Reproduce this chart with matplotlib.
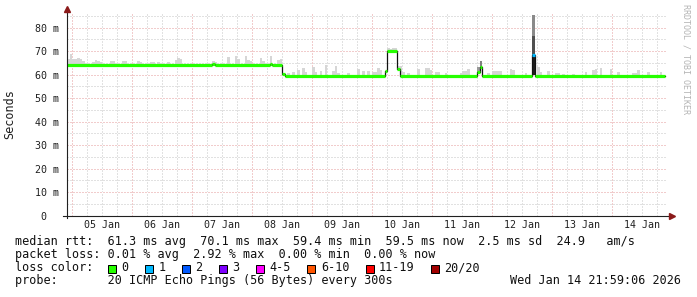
import numpy as np
import pandas as pd
import matplotlib
matplotlib.use('Agg')
import matplotlib.pyplot as plt
from matplotlib.patches import Rectangle

W, H = 697, 297

# graph window
start = pd.Timestamp('2026-01-04 21:59:06')
end = pd.Timestamp('2026-01-14 21:59:06')

# median rtt (ms) as hourly steps: level starts at the given hour
med_start = ['01-04 22', '01-07 08', '01-07 09', '01-08 07', '01-08 08', '01-08 12', '01-08 13',
             '01-10 05', '01-10 06', '01-10 10', '01-10 11', '01-11 18', '01-11 19', '01-11 20',
             '01-12 16', '01-12 17']
med_ms = [64.1, 64.6, 64.1, 64.6, 64.1, 60.1, 59.5,
          61.5, 70.1, 62.6, 59.5, 61.0, 63.3, 59.5,
          68.3, 59.5]
med_loss = [0, 0, 0, 0, 0, 0, 0,
            0, 0, 0, 0, 0, 0, 0,
            1, 0]
med_end = '01-14 21'

# smoke: hourly max ping above the median (ms)
smoke_hour = ['01-04 22', '01-04 23', '01-05 00', '01-05 01', '01-05 02', '01-05 03', '01-05 04',
              '01-05 08', '01-05 09', '01-05 10', '01-05 11', '01-05 15', '01-05 16', '01-05 20',
              '01-05 21', '01-06 02', '01-06 03', '01-06 07', '01-06 08', '01-06 10', '01-06 14',
              '01-06 17', '01-06 18', '01-06 19', '01-07 08', '01-07 09', '01-07 14', '01-07 17',
              '01-07 18', '01-07 21', '01-07 22', '01-07 23', '01-08 03', '01-08 04', '01-08 07',
              '01-08 10', '01-08 11',
              '01-08 14', '01-08 16', '01-08 18', '01-08 20', '01-08 21', '01-09 00', '01-09 01',
              '01-09 03', '01-09 05', '01-09 08', '01-09 09', '01-09 10', '01-09 14', '01-09 18',
              '01-09 20', '01-09 22', '01-10 00', '01-10 01', '01-10 02', '01-10 03',
              '01-10 06', '01-10 07', '01-10 08', '01-10 09', '01-10 10', '01-10 11', '01-10 12',
              '01-10 14', '01-10 18', '01-10 21', '01-10 22', '01-10 23', '01-11 01', '01-11 02',
              '01-11 05', '01-11 11', '01-11 12', '01-11 13', '01-11 14', '01-11 22',
              '01-12 00', '01-12 01', '01-12 02', '01-12 03', '01-12 07', '01-12 08', '01-12 13',
              '01-12 18', '01-12 19', '01-12 22', '01-13 01', '01-13 02', '01-13 04', '01-13 08',
              '01-13 13', '01-13 16', '01-13 17', '01-13 19', '01-13 23', '01-14 02', '01-14 08',
              '01-14 09', '01-14 10', '01-14 14', '01-14 19']
smoke_top = [66.7, 68.8, 66.5, 66.5, 67.2, 66.5, 66.0,
             65.3, 66.3, 66.0, 65.3, 65.8, 65.8, 65.8,
             65.8, 65.8, 65.5, 65.3, 65.3, 65.6, 65.6,
             66.3, 67.2, 66.5, 65.8, 65.3, 67.7, 68.1,
             66.7, 68.0, 66.3, 66.0, 67.2, 66.0, 68.0,
             66.3, 66.7,
             60.6, 61.0, 62.0, 63.0, 61.3, 63.4, 61.0,
             61.6, 64.1, 61.6, 63.7, 60.9, 60.8, 62.3,
             61.6, 61.6, 61.0, 61.0, 63.0, 62.0,
             71.3, 71.0, 71.5, 71.2, 63.7, 63.7, 61.0,
             60.8, 62.6, 62.7, 62.7, 62.0, 61.3, 61.0,
             60.6, 60.9, 61.6, 61.6, 62.3, 60.6,
             61.6, 61.6, 61.6, 61.6, 62.4, 62.0, 60.6,
             63.4, 61.3, 61.6, 60.9, 60.6, 60.5, 60.5,
             61.3, 62.0, 62.5, 62.9, 62.5, 61.3, 60.9,
             60.9, 61.8, 61.3, 61.3]

# denser smoke around the loss events
dark_hour = ['01-11 18', '01-11 19', '01-12 16', '01-12 16', '01-12 16']
dark_lo = [60.5, 63.3, 59.8, 68.0, 76.5]
dark_hi = [63.3, 65.8, 68.0, 76.5, 85.4]
dark_shade = ['#9a9a9a', '#808080', '#1e1e1e', '#505050', '#8a8a8a']

loss_labels = ['0', '1', '2', '3', '4-5', '6-10', '11-19', '20/20']
loss_colors = ['#26ff00', '#00b8ff', '#0059ff', '#7e00ff', '#ff00ff', '#ff5500', '#ff0000', '#a10000']

y_ticks = [0, 10, 20, 30, 40, 50, 60, 70, 80]
y_labels = [' 0', '10 m', '20 m', '30 m', '40 m', '50 m', '60 m', '70 m', '80 m']
day_labels = ['05 Jan', '06 Jan', '07 Jan', '08 Jan', '09 Jan', '10 Jan', '11 Jan', '12 Jan', '13 Jan', '14 Jan']

legend_rows = [
    'median rtt:  61.3 ms avg  70.1 ms max  59.4 ms min  59.5 ms now  2.5 ms sd  24.9   am/s',
    'packet loss: 0.01 % avg  2.92 % max  0.00 % min  0.00 % now',
    'loss color:',
    'probe:       20 ICMP Echo Pings (56 Bytes) every 300s',
]
stamp = 'Wed Jan 14 21:59:06 2026'


def ts(s):
    return pd.Timestamp('2026-' + s + ':00')


def fx(x):
    return x / W


def fy(y):
    return 1 - y / H


plt.rcParams['font.family'] = ['DejaVu Sans Mono']
fig = plt.figure(figsize=(W / 100, H / 100), dpi=100, facecolor='white')
ax = fig.add_axes([fx(67), fy(215.7), 600 / W, (215.7 - 13.8) / H])
ax.set_xlim(start, end)
ax.set_ylim(0, 85.9)
for s in ax.spines.values():
    s.set_visible(False)

# grid (dotted, minor gray / major red)
dot = (0, (1, 2))
minor_c = '#c4c4c4'
major_c = '#e49a9a'
for t in pd.date_range('2026-01-05', '2026-01-14 18:00', freq='6h'):
    ax.axvline(t, color=minor_c, lw=0.72, ls=dot, zorder=0.5)
for v in range(5, 90, 5):
    ax.axhline(v, color=minor_c, lw=0.72, ls=dot, zorder=0.5)
for t in pd.date_range('2026-01-05', '2026-01-14', freq='D'):
    ax.axvline(t, color='white', lw=0.8, zorder=0.55)
    ax.axvline(t, color=major_c, lw=0.72, ls=dot, zorder=0.6)
for v in range(10, 90, 10):
    ax.axhline(v, color='white', lw=0.8, zorder=0.55)
    ax.axhline(v, color=major_c, lw=0.72, ls=dot, zorder=0.6)

# median steps
med_t = [ts(s) for s in med_start]
edges = med_t + [ts(med_end)]

# smoke bars sit on the median of their hour
sm_t = [ts(s) for s in smoke_hour]
idx = np.searchsorted(np.array(med_t, dtype='datetime64[ns]'), np.array(sm_t, dtype='datetime64[ns]'), side='right') - 1
sm_bottom = np.array(med_ms)[idx]
ax.bar(sm_t, np.array(smoke_top) - sm_bottom, bottom=sm_bottom, width=1 / 24, align='edge',
       color='#d6d6d6', lw=0, zorder=1)

dk_t = [ts(s) for s in dark_hour]
ax.bar(dk_t, np.array(dark_hi) - np.array(dark_lo), bottom=dark_lo, width=1 / 24, align='edge',
       color=dark_shade, lw=0, zorder=1.2)

ax.step(edges, med_ms + [med_ms[-1]], where='post', color='#111111', lw=0.9, zorder=2)
ax.hlines(med_ms, edges[:-1], edges[1:], colors=[loss_colors[l] for l in med_loss], lw=2.3,
          zorder=3, capstyle='butt')

# axes lines with arrows
ax.plot([-0.0067, 1.006], [0, 0], transform=ax.transAxes, color='#202020', lw=0.8, clip_on=False, zorder=5)
ax.plot([0, 0], [-0.012, 1.02], transform=ax.transAxes, color='#202020', lw=0.8, clip_on=False, zorder=5)
ax.plot([1.008], [0], marker='>', ms=4, color='#8b1a1a', transform=ax.transAxes, clip_on=False, zorder=6)
ax.plot([0], [1.024], marker='^', ms=4, color='#8b1a1a', transform=ax.transAxes, clip_on=False, zorder=6)

# ticks
noon = pd.date_range('2026-01-05 12:00', periods=len(day_labels), freq='D')
ax.set_xticks(noon)
ax.set_xticklabels(day_labels, fontsize=7.2, color='#202020')
ax.set_yticks(y_ticks)
ax.set_yticklabels(y_labels, fontsize=7.2, color='#202020')
ax.tick_params(axis='x', length=0, pad=3.2)
ax.tick_params(axis='y', length=0, pad=22.7)
for lab in ax.get_yticklabels():
    lab.set_horizontalalignment('left')

fig.text(fx(10), fy(114.5), 'Seconds', rotation=90, ha='center', va='center', fontsize=8.5, color='#202020')
fig.text(fx(686), fy(4), 'RRDTOOL / TOBI OETIKER', rotation=270, ha='center', va='top', fontsize=6,
         color='#b4b4b4')

# legend
row_y = [244.5, 257.8, 271.1, 284.4]
for txt, y in zip(legend_rows, row_y):
    fig.text(fx(15.3), fy(y), txt, ha='left', va='baseline', fontsize=8.5, color='#101010')
fig.text(fx(681), fy(row_y[3]), stamp, ha='right', va='baseline', fontsize=8.5, color='#101010')

x = 108.0
for lab, col in zip(loss_labels, loss_colors):
    fig.add_artist(Rectangle((fx(x), fy(272.5)), 8 / W, 8 / H, transform=fig.transFigure,
                             facecolor=col, edgecolor='black', lw=0.72))
    fig.text(fx(x + 13.5), fy(row_y[2]), lab, ha='left', va='baseline', fontsize=8.5, color='#101010')
    x += 30 + 7.05 * len(lab)

fig.savefig('out.png', dpi=100, facecolor='white')
